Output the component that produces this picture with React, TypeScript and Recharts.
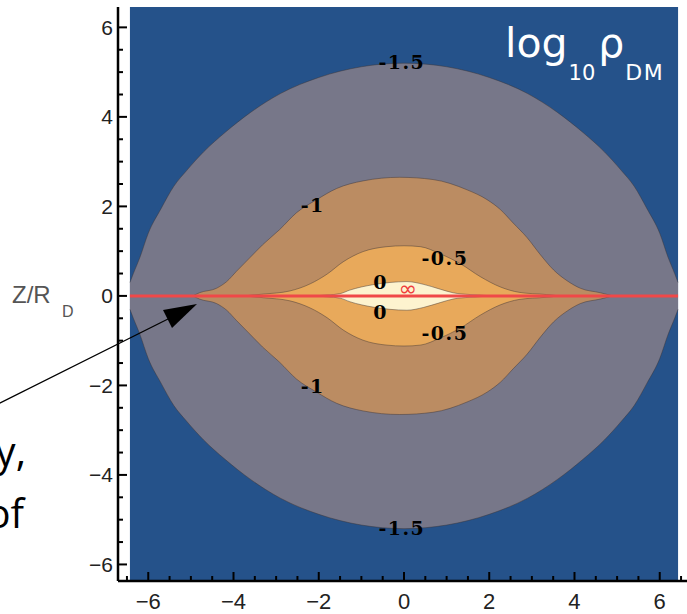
import { Area, ComposedChart, Line, Scatter, XAxis, YAxis } from "recharts";

// log10 rho_DM contours in the (R, z) plane, units of R_D.
// Each level is a lens symmetric about the midplane: x positions and half-thickness.
const plotX = [-6.43, 6.43];
const plotZ = [-6.37, 6.455];

const level15X = [-6.43, -6.35, -6.2, -6.0, -5.7, -5.4, -5.1, -4.7, -4.2, -3.6, -2.9, -2.0, -1.0, 0, 1.0, 2.0, 2.9, 3.6, 4.2, 4.7, 5.1, 5.4, 5.7, 6.0, 6.2, 6.35, 6.43];
const level15Z = [0.3, 0.5, 0.85, 1.4, 1.95, 2.45, 2.8, 3.22, 3.65, 4.1, 4.52, 4.88, 5.12, 5.2, 5.12, 4.88, 4.52, 4.1, 3.65, 3.22, 2.8, 2.45, 1.95, 1.4, 0.85, 0.5, 0.3];

const level10X = [-4.95, -4.8, -4.4, -4.16, -3.93, -3.62, -3.32, -2.92, -2.52, -2.05, -1.58, -0.96, -0.1, 0.68, 1.48, 1.95, 2.26, 2.56, 2.89, 3.2, 3.51, 3.84, 4.14, 4.61, 4.9];
const level10Z = [0, 0.07, 0.17, 0.32, 0.55, 0.85, 1.14, 1.48, 1.86, 2.15, 2.4, 2.57, 2.65, 2.6, 2.37, 2.15, 1.93, 1.63, 1.3, 0.92, 0.58, 0.33, 0.17, 0.07, 0];

const level05X = [-3.75, -3.3, -2.68, -2.2, -1.8, -1.43, -0.96, -0.4, 0, 0.38, 0.85, 1.32, 1.79, 2.26, 2.7, 3.34, 3.65];
const level05Z = [0, 0.04, 0.11, 0.27, 0.49, 0.76, 0.99, 1.1, 1.12, 1.1, 0.94, 0.72, 0.43, 0.2, 0.08, 0.03, 0];

const level00X = [-2.2, -1.8, -1.5, -1.27, -0.73, -0.33, 0.07, 0.45, 0.85, 1.15, 1.55, 2.2];
const level00Z = [0, 0.02, 0.05, 0.13, 0.25, 0.3, 0.32, 0.26, 0.15, 0.07, 0.03, 0];

// contour labels
const labelText = ["-1.5", "-1.5", "-1", "-1", "-0.5", "-0.5", "0", "0"];
const labelX = [-0.05, -0.05, -2.14, -2.14, 0.96, 0.96, -0.55, -0.55];
const labelZ = [5.23, -5.18, 2.03, -2.01, 0.85, -0.83, 0.31, -0.36];
const infX = [0.09];
const infZ = [0.16];

const xMajor = [-6, -4, -2, 0, 2, 4, 6];
const xTicks = [-6.5, -6, -5.5, -5, -4.5, -4, -3.5, -3, -2.5, -2, -1.5, -1, -0.5, 0, 0.5, 1, 1.5, 2, 2.5, 3, 3.5, 4, 4.5, 5, 5.5, 6, 6.5];
const yMajor = [-6, -4, -2, 0, 2, 4, 6];
const yTicks = [-6, -5.5, -5, -4.5, -4, -3.5, -3, -2.5, -2, -1.5, -1, -0.5, 0, 0.5, 1, 1.5, 2, 2.5, 3, 3.5, 4, 4.5, 5, 5.5, 6];

const lens = (xs: number[], zs: number[]) => xs.map((x, i) => ({ x, band: [-zs[i], zs[i]] }));

const background = plotX.map((x) => ({ x, band: plotZ }));
const midplane = plotX.map((x) => ({ x, z: 0 }));
const labels = labelText.map((text, i) => ({ x: labelX[i], z: labelZ[i], text }));
const infinity = infX.map((x, i) => ({ x, z: infZ[i], text: "\u221e" }));

const fmt = (v: number) => (v < 0 ? `\u2212${Math.abs(v)}` : `${v}`);
const isMajor = (list: number[], v: number) => list.includes(v);

function BottomTick(props: any) {
  const { x, y, payload } = props;
  const major = isMajor(xMajor, payload.value);
  return (
    <g>
      <line x1={x} y1={y} x2={x} y2={y - (major ? 9 : 5)} stroke="#000" strokeWidth={2} />
      {major && (
        <text x={x} y={y + 28} textAnchor="middle" fontSize={22} fill="#222" fontFamily="Liberation Sans, Arial, sans-serif">
          {fmt(payload.value)}
        </text>
      )}
    </g>
  );
}

function TopTick(props: any) {
  const { x, y, payload } = props;
  const major = isMajor(xMajor, payload.value);
  return <line x1={x} y1={y} x2={x} y2={y + (major ? 9 : 5)} stroke="#000" strokeWidth={2} />;
}

function LeftTick(props: any) {
  const { x, y, payload } = props;
  const major = isMajor(yMajor, payload.value);
  return (
    <g>
      <line x1={x} y1={y} x2={x + (major ? 9 : 5)} y2={y} stroke="#000" strokeWidth={2} />
      {major && (
        <text x={x - 5} y={y} textAnchor="end" dominantBaseline="central" fontSize={21} fill="#222" fontFamily="Liberation Sans, Arial, sans-serif">
          {fmt(payload.value)}
        </text>
      )}
    </g>
  );
}

function RightTick(props: any) {
  const { x, y, payload } = props;
  const major = isMajor(yMajor, payload.value);
  return <line x1={x} y1={y} x2={x - (major ? 9 : 5)} y2={y} stroke="#000" strokeWidth={2} />;
}

const LevelLabel = (props: any) => (
  <text
    x={props.cx}
    y={props.cy}
    textAnchor="middle"
    dominantBaseline="central"
    fontSize={19}
    fontWeight="bold"
    letterSpacing={1.5}
    fontFamily="DejaVu Serif, serif"
    fill="#000"
  >
    {props.payload.text}
  </text>
);

const InfLabel = (props: any) => (
  <text x={props.cx} y={props.cy} textAnchor="middle" dominantBaseline="central" fontSize={22} fill="#f03c3c" fontFamily="DejaVu Sans, sans-serif">
    {props.payload.text}
  </text>
);

const contourStroke = "rgba(60,50,50,0.45)";

export default function App() {
  return (
    <div style={{ position: "absolute", left: 0, top: 0, width: 687, height: 614, overflow: "hidden", background: "#fff" }}>
      <ComposedChart width={700} height={614} margin={{ top: 7, right: 10, bottom: 0, left: 0 }} style={{ position: "absolute", left: 0, top: 0 }}>
        <XAxis
          dataKey="x"
          type="number"
          domain={[-6.71, 6.71]}
          allowDataOverflow
          ticks={xTicks}
          interval={0}
          height={33}
          tickSize={0}
          tickMargin={0}
          tickLine={false}
          tick={<BottomTick />}
          axisLine={{ stroke: "#000", strokeWidth: 2.5 }}
        />
        <XAxis
          xAxisId="top"
          orientation="top"
          type="number"
          domain={[-6.71, 6.71]}
          allowDataOverflow
          ticks={xTicks}
          interval={0}
          height={0}
          tickSize={0}
          tickMargin={0}
          tickLine={false}
          tick={<TopTick />}
          axisLine={{ stroke: "#000", strokeWidth: 2.5 }}
        />
        <YAxis
          type="number"
          domain={plotZ}
          allowDataOverflow
          ticks={yTicks}
          interval={0}
          width={118}
          tickSize={0}
          tickMargin={0}
          tickLine={false}
          tick={<LeftTick />}
          axisLine={{ stroke: "#000", strokeWidth: 2.5 }}
        />
        <YAxis
          yAxisId="right"
          orientation="right"
          type="number"
          domain={plotZ}
          allowDataOverflow
          ticks={yTicks}
          interval={0}
          width={0}
          tickSize={0}
          tickMargin={0}
          tickLine={false}
          tick={<RightTick />}
          axisLine={{ stroke: "#000", strokeWidth: 2.5 }}
        />

        <Area data={background} dataKey="band" type="linear" fill="#25528a" fillOpacity={1} stroke="none" isAnimationActive={false} />
        <Area data={lens(level15X, level15Z)} dataKey="band" type="monotone" fill="#777789" fillOpacity={1} stroke={contourStroke} strokeWidth={1} isAnimationActive={false} />
        <Area data={lens(level10X, level10Z)} dataKey="band" type="monotone" fill="#bb8c62" fillOpacity={1} stroke={contourStroke} strokeWidth={1} isAnimationActive={false} />
        <Area data={lens(level05X, level05Z)} dataKey="band" type="monotone" fill="#e8a95b" fillOpacity={1} stroke={contourStroke} strokeWidth={1} isAnimationActive={false} />
        <Area data={lens(level00X, level00Z)} dataKey="band" type="monotone" fill="#fdf3cf" fillOpacity={1} stroke={contourStroke} strokeWidth={1} isAnimationActive={false} />
        <Line data={midplane} dataKey="z" type="linear" stroke="#f04848" strokeWidth={3} dot={false} activeDot={false} isAnimationActive={false} />
        <Scatter data={labels} dataKey="z" shape={<LevelLabel />} isAnimationActive={false} />
        <Scatter data={infinity} dataKey="z" shape={<InfLabel />} isAnimationActive={false} />
      </ComposedChart>

      <svg width={687} height={614} style={{ position: "absolute", left: 0, top: 0, pointerEvents: "none" }}>
        <text x={505} y={57} fill="#fff" fontFamily="DejaVu Sans, sans-serif" fontSize={41}>
          log
          <tspan fontSize={21} dy={23} dx={1}>10</tspan>
          <tspan fontSize={41} dy={-23} dx={3}>ρ</tspan>
          <tspan fontSize={22} dy={23} dx={1} letterSpacing={1.5}>DM</tspan>
        </text>

        <text x={12} y={303} fill="#555" fontFamily="Liberation Sans, Arial, sans-serif" fontSize={24}>
          Z/R
        </text>
        <text x={62} y={317} fill="#555" fontFamily="Liberation Sans, Arial, sans-serif" fontSize={16}>
          D
        </text>

        <text x={26} y={466} textAnchor="end" fill="#000" fontFamily="Open Sans, sans-serif" fontSize={40}>
          y,
        </text>
        <text x={24} y={528} textAnchor="end" fill="#000" fontFamily="Open Sans, sans-serif" fontSize={40}>
          of
        </text>

        <line x1={-10} y1={408} x2={172} y2={317} stroke="#000" strokeWidth={1.2} />
        <polygon points="197,304 163,310 172,328" fill="#000" />
      </svg>
    </div>
  );
}
